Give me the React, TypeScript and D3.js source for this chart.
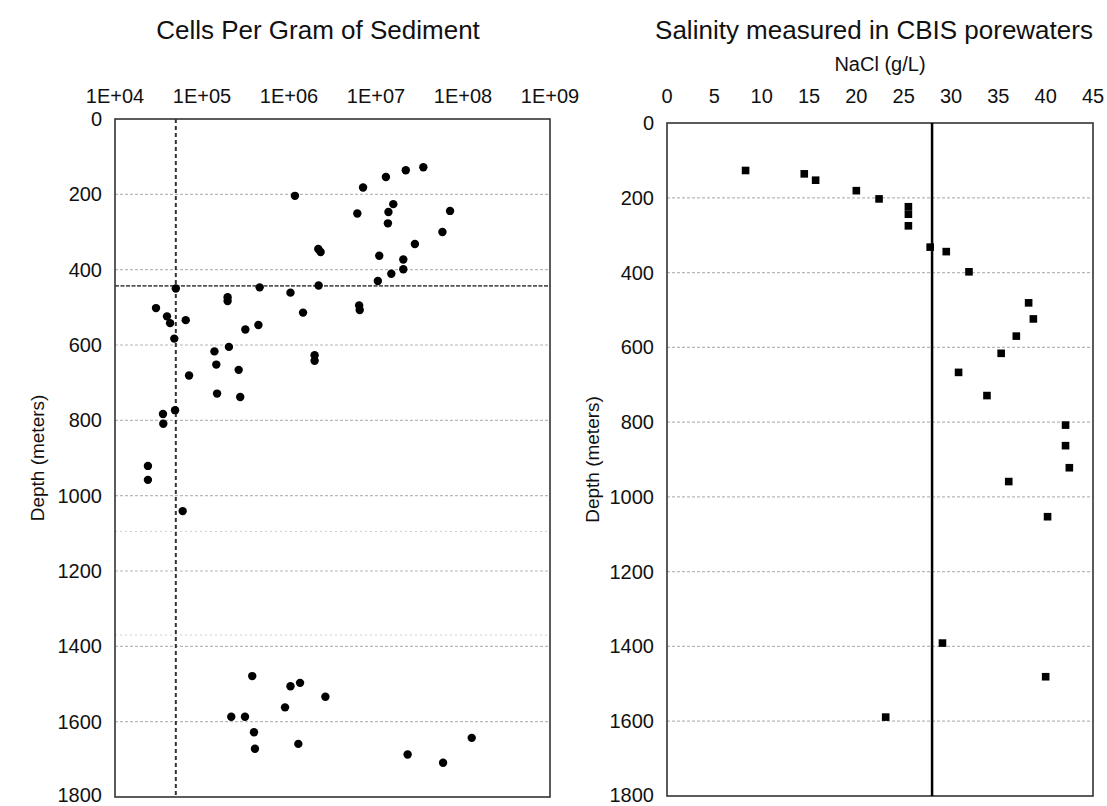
import React from "react";
import * as d3 from "d3";

// ---------- data ----------
const cellsDepth = [204, 182, 154, 136, 128, 251, 247, 226, 277, 244, 300, 332, 345, 353, 363, 373, 399, 411, 430, 442, 461, 447, 450, 473, 483, 514, 495, 507, 502, 524, 534, 542, 583, 547, 559, 617, 605, 652, 666, 681, 627, 642, 729, 738, 773, 783, 809, 921, 958, 1041, 1479, 1497, 1506, 1534, 1562, 1587, 1587, 1628, 1672, 1659, 1687, 1709, 1643];
const cellsPerGram = [1.17e6, 7.1e6, 1.3e7, 2.2e7, 3.5e7, 6.1e6, 1.39e7, 1.58e7, 1.37e7, 7.1e7, 5.8e7, 2.8e7, 2.17e6, 2.31e6, 1.09e7, 2.06e7, 2.06e7, 1.5e7, 1.05e7, 2.19e6, 1.04e6, 4.6e5, 5.0e4, 1.97e5, 1.97e5, 1.45e6, 6.4e6, 6.5e6, 2.96e4, 3.96e4, 6.5e4, 4.3e4, 4.8e4, 4.45e5, 3.15e5, 1.39e5, 2.04e5, 1.46e5, 2.64e5, 7.1e4, 1.97e6, 1.97e6, 1.49e5, 2.75e5, 4.9e4, 3.56e4, 3.59e4, 2.39e4, 2.39e4, 6.0e4, 3.78e5, 1.34e6, 1.04e6, 2.62e6, 9.0e5, 2.17e5, 3.12e5, 3.96e5, 4.06e5, 1.28e6, 2.31e7, 5.9e7, 1.26e8];

const salDepth = [127, 136, 153, 181, 203, 224, 244, 275, 332, 344, 398, 481, 524, 570, 616, 667, 729, 808, 863, 922, 959, 1053, 1391, 1481, 1589];
const salNaCl = [8.3, 14.5, 15.7, 20.0, 22.4, 25.5, 25.5, 25.5, 27.8, 29.5, 31.9, 38.2, 38.7, 36.9, 35.3, 30.8, 33.8, 42.1, 42.1, 42.5, 36.1, 40.2, 29.1, 40.0, 23.1];

const cellsTicks = [1e4, 1e5, 1e6, 1e7, 1e8, 1e9];
const naclTicks = [0, 5, 10, 15, 20, 25, 30, 35, 40, 45];
const depthTicks = [0, 200, 400, 600, 800, 1000, 1200, 1400, 1600, 1800];
const detectionLimit = 5e4;
const boundaryDepth = [443];
const faintDepths = [1095, 1370];
const naclReference = 28;

const leftTitle = "Cells Per Gram of Sediment";
const rightTitle = "Salinity measured in CBIS porewaters";
const rightXLabel = "NaCl (g/L)";
const yLabel = "Depth (meters)";

const FONT = "'Liberation Sans', Arial, Helvetica, sans-serif";

function fmtExp(v: number) {
  const e = Math.round(Math.log10(v));
  return "1E+" + (e < 10 ? "0" + e : String(e));
}

export default function App() {
  const xL = d3.scaleLog().domain([1e4, 1e9]).range([115, 550]);
  const yL = d3.scaleLinear().domain([0, 1800]).range([119, 797]);
  const xR = d3.scaleLinear().domain([0, 45]).range([667, 1093]);
  const yR = d3.scaleLinear().domain([0, 1800]).range([123, 796]);

  const grid = "#b8b8b8";
  const tickFont = 20;

  return (
    <svg width={1107} height={806} style={{ position: "absolute", left: 0, top: 0, background: "#fff" }} fontFamily={FONT}>
      <rect x={0} y={0} width={1107} height={806} fill="#fff" />
      {/* ---------- LEFT CHART ---------- */}
      <text x={318} y={39} fontSize={26} textAnchor="middle" fill="#111">{leftTitle}</text>
      {cellsTicks.map((t) => (
        <text key={"lx" + t} x={xL(t)} y={103} fontSize={tickFont} textAnchor="middle" fill="#111">{fmtExp(t)}</text>
      ))}
      {depthTicks.map((t) => (
        <text key={"ly" + t} x={102} y={Math.min(yL(t) + 7, 802)} fontSize={tickFont} textAnchor="end" fill="#111">{t}</text>
      ))}
      {depthTicks.slice(1, -1).map((t) => (
        <line key={"lg" + t} x1={xL.range()[0]} x2={xL.range()[1]} y1={yL(t)} y2={yL(t)} stroke={grid} strokeWidth={1.2} strokeDasharray="3,2" />
      ))}
      {faintDepths.map((t) => (
        <line key={"lf" + t} x1={xL.range()[0]} x2={xL.range()[1]} y1={yL(t)} y2={yL(t)} stroke="#cfcfcf" strokeWidth={1} strokeDasharray="2,3" />
      ))}
      {boundaryDepth.map((t) => (
        <line key={"lb" + t} x1={xL.range()[0]} x2={xL.range()[1]} y1={yL(t)} y2={yL(t)} stroke="#555" strokeWidth={1.6} strokeDasharray="4,1.5" />
      ))}
      <line x1={xL(detectionLimit)} x2={xL(detectionLimit)} y1={yL(0)} y2={yL(1800)} stroke="#333" strokeWidth={2} strokeDasharray="4,3" />
      <rect x={xL.range()[0]} y={yL(0)} width={xL.range()[1] - xL.range()[0]} height={yL(1800) - yL(0)} fill="none" stroke="#333" strokeWidth={1.6} />
      {cellsDepth.map((d, i) => (
        <circle key={"c" + i} cx={xL(cellsPerGram[i])} cy={yL(d)} r={4.2} fill="#000" />
      ))}
      <text transform={`translate(44, ${(yL(0) + yL(1800)) / 2}) rotate(-90)`} fontSize={19} textAnchor="middle" fill="#111">{yLabel}</text>

      {/* ---------- RIGHT CHART ---------- */}
      <text x={874} y={39} fontSize={26} textAnchor="middle" fill="#111">{rightTitle}</text>
      <text x={(xR.range()[0] + xR.range()[1]) / 2} y={71} fontSize={20} textAnchor="middle" fill="#111">{rightXLabel}</text>
      {naclTicks.map((t) => (
        <text key={"rx" + t} x={xR(t)} y={103} fontSize={tickFont} textAnchor="middle" fill="#111">{t}</text>
      ))}
      {depthTicks.map((t) => (
        <text key={"ry" + t} x={654} y={Math.min(yR(t) + 7, 802)} fontSize={tickFont} textAnchor="end" fill="#111">{t}</text>
      ))}
      {depthTicks.slice(1, -1).map((t) => (
        <line key={"rg" + t} x1={xR.range()[0]} x2={xR.range()[1]} y1={yR(t)} y2={yR(t)} stroke={grid} strokeWidth={1.2} strokeDasharray="3,2" />
      ))}
      <rect x={xR.range()[0]} y={yR(0)} width={xR.range()[1] - xR.range()[0]} height={yR(1800) - yR(0)} fill="none" stroke="#333" strokeWidth={1.6} />
      <line x1={xR(naclReference)} x2={xR(naclReference)} y1={yR(0)} y2={yR(1800)} stroke="#000" strokeWidth={2.5} />
      {salDepth.map((d, i) => (
        <rect key={"s" + i} x={xR(salNaCl[i]) - 3.8} y={yR(d) - 3.8} width={7.6} height={7.6} fill="#000" />
      ))}
      <text transform={`translate(599, ${(yR(0) + yR(1800)) / 2}) rotate(-90)`} fontSize={19} textAnchor="middle" fill="#111">{yLabel}</text>
    </svg>
  );
}
